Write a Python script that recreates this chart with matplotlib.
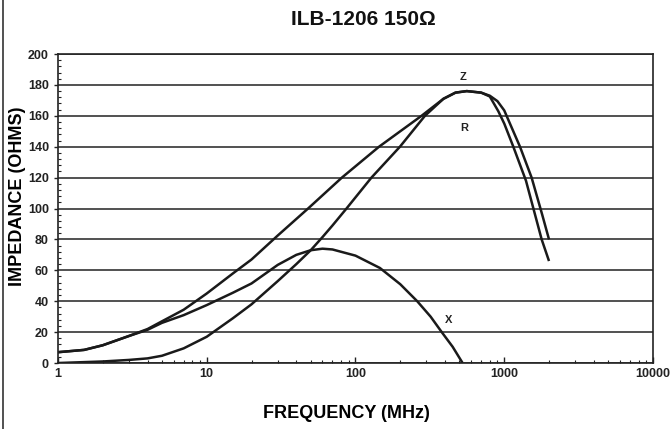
import matplotlib.pyplot as plt
from matplotlib.ticker import AutoMinorLocator, LogLocator, FixedLocator, NullFormatter
from matplotlib.lines import Line2D

# values (frequency in MHz, impedance in ohms)
z_freq = [1, 1.5, 2, 3, 4, 5, 7, 10, 15, 20, 30, 48, 81, 144, 200, 278, 390, 470, 560,
          700, 800, 900, 1000, 1276, 1528, 1800, 2000]
z_vals = [7, 8.5, 11.5, 17.5, 22, 27, 34.5, 45, 58, 67, 82.5, 100, 120, 140, 150, 160, 171,
          175, 176, 175, 173, 169.5, 163.5, 140, 120, 96, 80]

r_freq = [1, 2, 3, 4, 5, 7, 10, 15, 20, 30, 40, 50, 60, 70, 87, 128, 199, 293, 390, 470,
          560, 700, 800, 912, 1000, 1151, 1400, 1785, 2000]
r_vals = [0, 1, 2, 3, 4.7, 9.5, 17, 29, 38, 53, 64, 73, 81.5, 89, 100, 120, 140, 160, 171,
          175, 176, 175, 172.5, 163, 155, 140, 118, 80, 66]

x_freq = [1, 1.5, 2, 3, 4, 5, 7, 10, 15, 20, 30, 40, 50, 60, 70, 80, 100, 146, 200, 260,
          320, 380, 450, 525]
x_vals = [7, 8.5, 11.5, 17.5, 21.5, 26, 31, 37.5, 45.5, 51.5, 63.5, 70, 73, 74, 73.5, 72,
          69.5, 61.5, 51, 40, 30, 20, 10.5, 0]

labels = ['Z', 'R', 'X']
label_pos = [(528, 185), (540, 152), (425, 28)]

plt.rcParams['font.family'] = ['Liberation Sans', 'DejaVu Sans']
plt.rcParams['font.weight'] = 'bold'

fig = plt.figure(figsize=(6.72, 4.29), dpi=100)
ax = fig.add_axes([0.0863, 0.1538, 0.8854, 0.7203])

for f, v in [(z_freq, z_vals), (r_freq, r_vals), (x_freq, x_vals)]:
    ax.plot(f, v, color='#1a1a1a', lw=1.8, solid_capstyle='butt')

for lab, (fx, fy) in zip(labels, label_pos):
    ax.text(fx, fy, lab, fontsize=8, fontweight='bold', ha='center', va='center', color='#222')

ax.set_xscale('log')
ax.set_xlim(1, 10000)
ax.set_ylim(0, 200)
ax.xaxis.set_major_locator(FixedLocator([1, 10, 100, 1000, 10000]))
ax.set_xticklabels(['1', '10', '100', '1000', '10000'])
ax.xaxis.set_minor_locator(LogLocator(base=10, subs=range(2, 10)))
ax.xaxis.set_minor_formatter(NullFormatter())
ax.set_yticks(range(0, 201, 20))
ax.yaxis.set_minor_locator(AutoMinorLocator(5))

ax.grid(axis='y', which='major', color='#333', lw=1.2)
for s in ax.spines.values():
    s.set_color('#222')
    s.set_linewidth(1.2)

ax.tick_params(axis='both', which='major', labelsize=9, length=3, width=1, colors='#222')
ax.tick_params(axis='y', which='major', direction='out')
ax.tick_params(axis='x', which='major', direction='in', length=4)
ax.tick_params(axis='both', which='minor', direction='in', length=2.5, width=0.8, colors='#222')
for t in ax.get_xticklabels() + ax.get_yticklabels():
    t.set_fontweight('bold')

ax.set_xlabel('FREQUENCY (MHz)', fontsize=13, fontweight='bold')
ax.xaxis.set_label_coords(0.485, -0.135)
ax.set_ylabel('IMPEDANCE (OHMS)', fontsize=13, fontweight='bold')
ax.yaxis.set_label_coords(-0.053, 0.539)
fig.text(0.54, 0.955, 'ILB-1206 150\u03a9', fontsize=15, fontweight='bold',
         ha='center', va='center', color='#111')

# left edge line of the scanned page
fig.add_artist(Line2D([0.005, 0.005], [0, 1], transform=fig.transFigure, color='#333', lw=1.2))

fig.savefig('out.png', dpi=100)
